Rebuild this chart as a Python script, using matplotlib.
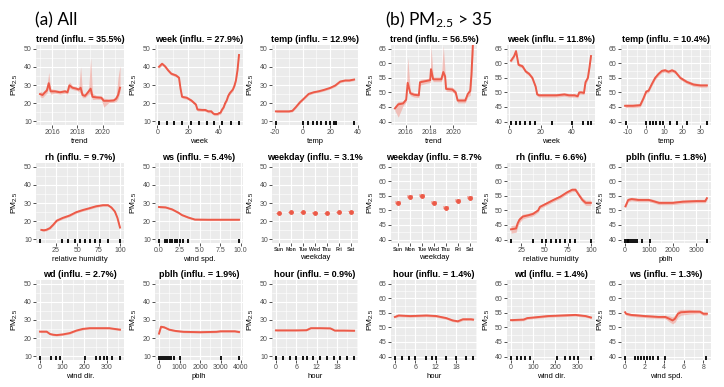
import numpy as np
import matplotlib.pyplot as plt
from matplotlib.ticker import AutoMinorLocator

plt.rcParams['font.family'] = ['Liberation Sans', 'DejaVu Sans']
plt.rcParams['mathtext.default'] = 'regular'
plt.rcParams['axes.unicode_minus'] = False

# ---------------- values ----------------
# (a) All
trend_a_x = [2015.0, 2015.2, 2015.4, 2015.55, 2015.7, 2015.85, 2016.2, 2016.6, 2017.0, 2017.2,
             2017.35, 2017.6, 2017.9, 2018.1, 2018.25, 2018.4, 2018.6, 2018.9, 2019.05, 2019.2,
             2019.5, 2019.9, 2020.1, 2020.5, 2020.9, 2021.1, 2021.25, 2021.4]
trend_a_y = [25.0, 24.5, 26.0, 27.0, 31.0, 26.5, 26.5, 26.0, 26.5, 26.0,
             29.8, 28.5, 28.0, 27.5, 28.5, 24.5, 24.0, 26.5, 28.0, 23.5,
             23.2, 23.0, 21.3, 21.3, 21.5, 22.5, 24.5, 28.5]
trend_a_lo = [1.5, 1.5, 1.5, 1.5, 2.5, 1.5, 1, 1, 1, 1, 1.5, 1, 1, 1, 3, 1.5, 1, 1.5, 3, 1.5,
              1, 1, 3.5, 1, 1, 1.5, 2, 2]
trend_a_hi = [1.5, 1.5, 1.5, 2, 6, 1.5, 1, 1, 1, 1, 2, 1, 1, 1, 11.5, 1.5, 1, 2, 17, 2,
              1, 1, 1.5, 1, 1, 2, 10, 12]

week_a_x = [1, 3, 5, 7, 9, 12, 14, 15, 16, 19, 22, 24, 25, 26, 29, 31, 33, 35, 36, 37, 39, 40,
            41, 42, 43, 44, 45, 46, 47, 48, 49, 50, 51, 52, 53]
week_a_y = [40, 41.7, 40.2, 38, 36.2, 35.3, 34, 28, 23.5, 23, 21.5, 20, 19.2, 16.5, 16.3, 16.3,
            15.5, 15.5, 14.5, 14, 14, 14.5, 14.8, 16.5, 17.7, 20, 21.5, 24, 25.5, 26.5, 27.5,
            29.5, 32.5, 38, 46.5]
week_a_rug = [1, 6, 11, 16, 22, 27, 32, 37, 42, 48, 53]

temp_a_x = [-19.5, -15, -10, -7.5, -5, -2, 0.7, 4.4, 8, 12, 15.5, 20, 23.7, 27.4, 31, 34, 37.5]
temp_a_y = [15.5, 15.5, 15.5, 15.8, 17.8, 20.5, 22.4, 25.1, 26, 26.6, 27.3, 28.4, 29.7, 31.9,
            32.5, 32.5, 33]
temp_a_rug = [-19.5, 0.5, 3.7, 7.2, 10.4, 13.6, 17, 20.2, 22.7, 24.4, 37.5]

rh_a_x = [8, 11, 14, 18, 22, 26, 33, 41, 49, 57, 64, 72, 80, 86, 90, 94, 97, 100]
rh_a_y = [15.2, 15.0, 15.3, 16.2, 18.1, 20.3, 21.8, 23.1, 25.0, 26.2, 27.1, 28.2, 28.8, 28.8,
          27.5, 25.3, 21.8, 16.5]
rh_a_rug = [6.4, 31.6, 39.3, 47.1, 52.9, 58.7, 64.5, 70.3, 76.2, 85.8, 100]

ws_a_x = [0, 0.8, 1.6, 2.4, 2.8, 3.6, 4.4, 6, 8, 9.8]
ws_a_y = [27.8, 27.6, 26.5, 24.6, 23.4, 22.0, 20.9, 20.8, 20.8, 20.8]
ws_a_rug = [0, 0.7, 1.0, 1.3, 1.6, 1.9, 2.2, 2.6, 3.0, 3.6, 9.8]

days = ['Sun', 'Mon', 'Tue', 'Wed', 'Thu', 'Fri', 'Sat']
wkd_a = [24.3, 24.9, 24.9, 24.5, 24.3, 24.9, 25.2]
wkd_a_err = [0.4, 0.4, 0.4, 0.4, 0.4, 0.4, 0.4]

wd_a_x = [0, 30, 45, 60, 75, 104, 134, 164, 193, 223, 268, 312, 335, 360]
wd_a_y = [23.6, 23.6, 22.3, 21.9, 21.7, 22.1, 22.8, 24.2, 25.1, 25.5, 25.5, 25.5, 25.1, 24.7]
wd_a_rug = [0, 48, 71, 92, 201, 250, 271, 290, 301, 325, 360]

pblh_a_x = [0, 100, 250, 500, 800, 1200, 2000, 2800, 3000, 3700, 3900]
pblh_a_y = [22.5, 26.3, 26.0, 24.7, 24.0, 23.5, 23.3, 23.5, 23.8, 23.8, 23.4]
pblh_a_rug = [0, 100, 200, 300, 400, 500, 600, 750, 1000, 3000, 3900]

hour_a_x = [0, 3, 6, 9, 9.7, 10.3, 13, 16, 16.7, 17.3, 20, 23]
hour_a_y = [24.3, 24.3, 24.3, 24.4, 25.0, 25.5, 25.5, 25.4, 24.8, 24.2, 24.2, 24.1]
hour_a_rug = [0, 2, 4, 6, 8, 9, 11, 13, 15, 17, 19, 21, 23]

# (b) PM2.5 > 35
trend_b_x = [2015.1, 2015.38, 2015.78, 2016.04, 2016.17, 2016.39, 2016.7, 2017.1, 2017.2, 2017.8,
             2018.05, 2018.12, 2018.3, 2018.98, 2019.15, 2019.3, 2019.38, 2019.9, 2020.18, 2020.35,
             2020.98, 2021.2, 2021.4, 2021.5, 2021.64]
trend_b_y = [44.5, 45.9, 46.2, 47.5, 53.3, 49.7, 49.2, 49.0, 53.5, 54.0,
             54.2, 58.0, 54.5, 54.5, 57.0, 55.5, 51.2, 51.0, 50.0, 47.2,
             47.2, 49.5, 50.5, 56.0, 68.0]
trend_b_lo = [0.8, 4.4, 0.8, 0.8, 1.5, 0.8, 0.8, 0.8, 1, 0.8, 0.8, 1.5, 0.8, 0.8, 1.5, 1, 0.8,
              0.8, 0.8, 0.8, 0.8, 1, 1.5, 3, 5]
trend_b_hi = [0.8, 1, 0.8, 0.8, 8.7, 0.8, 0.8, 0.8, 1, 0.8, 0.8, 8, 0.8, 0.8, 9, 1, 0.8,
              0.8, 0.8, 0.8, 0.8, 1, 1.5, 3, 3]

week_b_x = [1, 3, 4.2, 5.8, 8.3, 10.4, 12.5, 14.6, 16.7, 17.7, 19, 25, 30, 35, 38, 41.5, 43.5,
            44.5, 46, 47.5, 48.5, 50, 51, 52]
week_b_y = [60.9, 62.5, 64.2, 59.5, 59.0, 57.2, 56.4, 55.0, 52.0, 49.3, 49.0, 49.0, 49.0, 49.3,
            49.0, 49.0, 48.7, 50.0, 50.0, 49.8, 53.5, 55.0, 58.5, 62.5]
week_b_rug = [1, 4, 7, 10, 13, 16, 27, 40, 47, 50, 52]

temp_b_x = [-11.3, -7, -3, -1.2, 0.3, 1.6, 3.4, 5.2, 7.1, 8.9, 10.7, 12.5, 14.4, 16.2, 19,
            22.6, 26.3, 30, 33.6]
temp_b_y = [45.4, 45.4, 45.6, 48.0, 50.3, 50.6, 52.9, 55.0, 56.4, 57.4, 57.6, 57.1, 57.6, 57.1,
            55.0, 53.6, 52.7, 52.4, 52.4]
temp_b_rug = [-11, 0.3, 2.1, 3.9, 5.8, 7.6, 9.4, 13.4, 17, 22.6, 33.6]

wkd_b = [52.6, 54.7, 55.1, 52.6, 51.0, 53.3, 54.4]
wkd_b_err = [0.5, 0.5, 0.6, 0.5, 0.5, 0.5, 0.5]

rh_b_x = [13.9, 19.4, 21, 23, 26.7, 32.2, 37.6, 43.1, 45, 52.3, 59.6, 66.9, 74.2, 79.7, 83.3,
          87, 90.7, 94.3, 99.8]
rh_b_y = [43.5, 43.8, 45.5, 46.8, 47.9, 48.3, 48.8, 50.0, 51.2, 52.4, 53.6, 54.7, 56.2, 57.1,
          57.1, 55.3, 53.6, 52.6, 52.6]
rh_b_w = [1.3, 1.3, 1.2, 1.0, 0.8, 0.7, 0.7, 0.6, 0.6, 0.6, 0.6, 0.6, 0.6, 0.6, 0.6, 0.7, 0.8,
          0.9, 0.9]
rh_b_rug = [14, 38, 47, 52, 57, 62, 67, 72, 77, 83, 100]

pblh_b_x = [15, 130, 275, 563, 996, 1140, 1430, 2005, 2437, 3015, 3377, 3450]
pblh_b_y = [51.4, 53.6, 53.9, 53.6, 53.6, 53.3, 52.6, 52.6, 53.0, 53.2, 53.2, 54.2]
pblh_b_rug = [0, 60, 120, 180, 250, 320, 400, 500, 700, 1050, 3450]

hour_b_x = [0, 1.1, 4.5, 9.3, 12.2, 15.1, 17, 18.5, 20, 22.4, 23]
hour_b_y = [53.6, 54.1, 53.9, 54.1, 53.9, 53.2, 52.4, 52.1, 52.8, 52.8, 52.7]
hour_b_rug = [0, 2, 4, 6, 9, 11, 12, 15, 18, 21, 23]

wd_b_x = [0, 57, 73, 127, 166, 228, 290, 336, 360]
wd_b_y = [52.5, 52.7, 53.2, 53.6, 53.9, 54.1, 54.3, 53.9, 53.4]
wd_b_rug = [0, 25, 45, 65, 85, 205, 245, 265, 285, 300, 360]

ws_b_x = [0, 0.1, 0.6, 2, 3.4, 4.1, 4.5, 4.85, 5.1, 5.4, 5.7, 6.6, 7.65, 8.0, 8.36]
ws_b_y = [55.2, 54.7, 54.3, 53.9, 53.6, 53.6, 53.0, 52.4, 53.0, 54.7, 55.2, 55.4, 55.4, 54.7, 54.7]
ws_b_w = [0.5, 0.5, 0.5, 0.5, 0.5, 0.6, 1.0, 1.2, 1.2, 1.2, 1.0, 0.8, 0.6, 0.6, 0.6]
ws_b_rug = [0, 1.0, 1.3, 1.6, 1.9, 2.2, 2.5, 2.9, 3.4, 4.1, 8.3]

# ---------------- layout (pixels) ----------------
W, H = 724, 387
cols = [(36, 124), (155, 243), (272, 358), (391, 477), (507, 595), (621, 711)]
rows = [(45, 125), (163, 243), (280, 360)]
RED = '#EC5A48'
BAND = '#F3A096'

fig = plt.figure(figsize=(W / 100, H / 100), dpi=100)


def add_ax(r, c, grp):
    x0, x1 = cols[c]
    y0, y1 = rows[r]
    ax = fig.add_axes([x0 / W, 1 - y1 / H, (x1 - x0) / W, (y1 - y0) / H])
    ax.set_facecolor('#EBEBEB')
    for s in ax.spines.values():
        s.set_visible(False)
    ax.grid(True, which='major', color='white', lw=0.8)
    ax.grid(True, which='minor', color='white', lw=0.4)
    ax.set_axisbelow(True)
    ax.tick_params(which='major', length=2, width=0.6, color='#333333',
                   labelsize=5, labelcolor='#4D4D4D', pad=1)
    ax.tick_params(which='minor', length=0)
    if grp == 'a':
        ax.set_ylim(8, 52)
        ax.set_yticks([10, 20, 30, 40, 50])
    else:
        ax.set_ylim(38.8, 66.3)
        ax.set_yticks([40, 45, 50, 55, 60, 65])
    ax.yaxis.set_minor_locator(AutoMinorLocator(2))
    ax.set_ylabel('PM$_{2.5}$', fontsize=6, labelpad=2.5)
    return ax


def curve(r, c, grp, title, xlab, x, y, lo, hi, rug, ticks, labels=None):
    ax = add_ax(r, c, grp)
    x = np.asarray(x, float)
    y = np.asarray(y, float)
    ax.fill_between(x, y - np.asarray(lo), y + np.asarray(hi), color=BAND, alpha=0.6, lw=0)
    ax.plot(x, y, color=RED, lw=1.4)
    allx = x
    if rug:
        ax.vlines(rug, 0, 0.05, transform=ax.get_xaxis_transform(), color='black', lw=1.3)
        allx = np.concatenate([x, rug])
    pad = 0.05 * (allx.max() - allx.min())
    ax.set_xlim(allx.min() - pad, allx.max() + pad)
    ax.set_xticks(ticks)
    if labels:
        ax.set_xticklabels(labels)
    ax.xaxis.set_minor_locator(AutoMinorLocator(2))
    ax.set_title(title, fontsize=6.5, fontweight='bold', pad=2.5)
    ax.set_xlabel(xlab, fontsize=5.5, labelpad=1)
    return ax


def weekday(r, c, grp, title, vals, err):
    ax = add_ax(r, c, grp)
    pos = np.arange(1, len(days) + 1)
    vals = np.asarray(vals)
    err = np.asarray(err)
    ax.bar(pos, 2 * err, bottom=vals - err, width=0.5, color=BAND, alpha=0.7, lw=0)
    ax.plot(pos, vals, 'o', color=RED, ms=3.5, mec='none')
    ax.set_xlim(0.4, 7.6)
    ax.set_xticks(pos)
    ax.set_xticklabels(days, fontsize=3.8, fontweight='bold', color='#333333')
    ax.set_title(title, fontsize=6.5, fontweight='bold', pad=2.5)
    ax.set_xlabel('weekday', fontsize=5.5, labelpad=1)
    return ax


# (a) All
curve(0, 0, 'a', 'trend (influ. = 35.5%)', 'trend', trend_a_x, trend_a_y, trend_a_lo, trend_a_hi,
      None, [2016, 2018, 2020])
curve(0, 1, 'a', 'week (influ. = 27.9%)', 'week', week_a_x, week_a_y, 0.8, 0.8, week_a_rug,
      [0, 20, 40])
curve(0, 2, 'a', 'temp (influ. = 12.9%)', 'temp', temp_a_x, temp_a_y, 0.6, 0.6, temp_a_rug,
      [-20, 0, 20, 40])
curve(1, 0, 'a', 'rh (influ. = 9.7%)', 'relative humidity', rh_a_x, rh_a_y, 0.6, 0.6, rh_a_rug,
      [25, 50, 75, 100])
curve(1, 1, 'a', 'ws (influ. = 5.4%)', 'wind spd.', ws_a_x, ws_a_y, 0.5, 0.5, ws_a_rug,
      [0, 2.5, 5, 7.5, 10], ['0.0', '2.5', '5.0', '7.5', '10.0'])
weekday(1, 2, 'a', 'weekday (influ. = 3.1%', wkd_a, wkd_a_err)
curve(2, 0, 'a', 'wd (influ. = 2.7%)', 'wind dir.', wd_a_x, wd_a_y, 0.5, 0.5, wd_a_rug,
      [0, 100, 200, 300])
curve(2, 1, 'a', 'pblh (influ. = 1.9%)', 'pblh', pblh_a_x, pblh_a_y, 0.5, 0.5, pblh_a_rug,
      [0, 1000, 2000, 3000, 4000])
curve(2, 2, 'a', 'hour (influ. = 0.9%)', 'hour', hour_a_x, hour_a_y, 0.4, 0.4, hour_a_rug,
      [0, 6, 12, 18])

# (b) PM2.5 > 35
curve(0, 3, 'b', 'trend (influ. = 56.5%)', 'trend', trend_b_x, trend_b_y, trend_b_lo, trend_b_hi,
      None, [2016, 2018, 2020])
curve(0, 4, 'b', 'week (influ. = 11.8%)', 'week', week_b_x, week_b_y, 0.6, 0.6, week_b_rug,
      [0, 20, 40])
curve(0, 5, 'b', 'temp (influ. = 10.4%)', 'temp', temp_b_x, temp_b_y, 0.6, 0.6, temp_b_rug,
      [-10, 0, 10, 20, 30])
weekday(1, 3, 'b', 'weekday (influ. = 8.7%', wkd_b, wkd_b_err)
curve(1, 4, 'b', 'rh (influ. = 6.6%)', 'relative humidity', rh_b_x, rh_b_y, rh_b_w, rh_b_w,
      rh_b_rug, [25, 50, 75, 100])
curve(1, 5, 'b', 'pblh (influ. = 1.8%)', 'pblh', pblh_b_x, pblh_b_y, 0.6, 0.6, pblh_b_rug,
      [0, 1000, 2000, 3000])
curve(2, 3, 'b', 'hour (influ. = 1.4%)', 'hour', hour_b_x, hour_b_y, 0.4, 0.4, hour_b_rug,
      [0, 6, 12, 18])
curve(2, 4, 'b', 'wd (influ. = 1.4%)', 'wind dir.', wd_b_x, wd_b_y, 0.4, 0.4, wd_b_rug,
      [0, 100, 200, 300])
curve(2, 5, 'b', 'ws (influ. = 1.3%)', 'wind spd.', ws_b_x, ws_b_y, ws_b_w, ws_b_w, ws_b_rug,
      [0, 2, 4, 6, 8])

fig.text(35 / W, 1 - 25 / H, '(a) All', fontsize=12.5, family=['Lato', 'DejaVu Sans'])
fig.text(385 / W, 1 - 25 / H, '(b) PM$_{2.5}$ > 35', fontsize=12.5, family=['Lato', 'DejaVu Sans'])

fig.savefig('out.png', dpi=100)
